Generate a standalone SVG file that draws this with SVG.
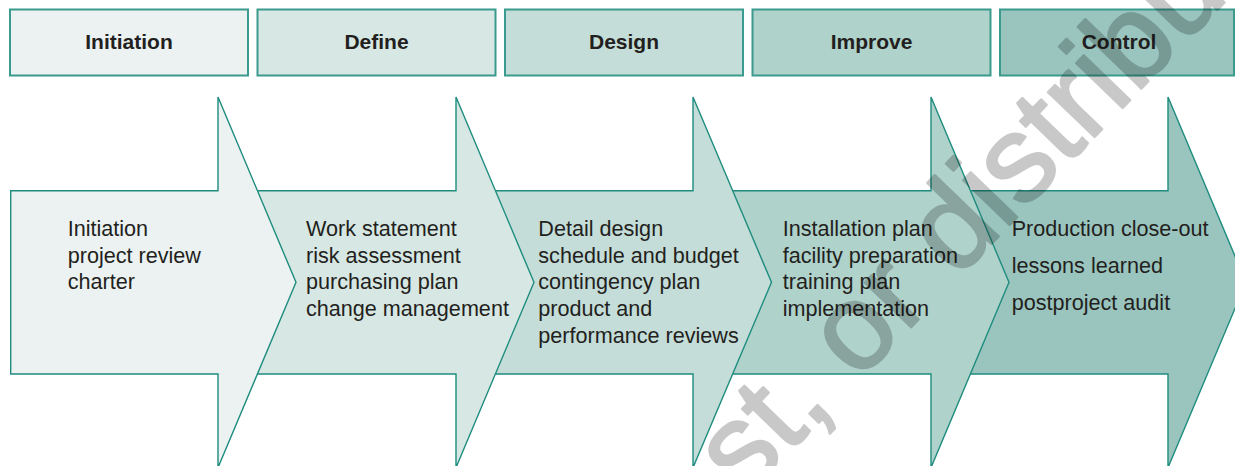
<svg xmlns="http://www.w3.org/2000/svg" width="1235" height="466" viewBox="0 0 1235 466">
  <style>
    .hdr { stroke: #3a9a8d; stroke-width: 2; }
    .hdr-text { font-family: "Liberation Sans", Arial, sans-serif; font-size: 21px; font-weight: bold; fill: #231f20; text-anchor: middle; }
    .arrow { stroke: #1f8c7f; stroke-width: 1.4; stroke-linejoin: miter; }
    .body { font-family: "Liberation Sans", Arial, sans-serif; font-size: 21.6px; fill: #231f20; }
    .c1 { fill: #ebf2f1; }
    .c2 { fill: #d7e8e4; }
    .c3 { fill: #c4ddd8; }
    .c4 { fill: #afd2cb; }
    .c5 { fill: #9ac5be; }
    .mark { font-family: "Liberation Sans", Arial, sans-serif; font-size: 122px; fill: #000000; stroke: #000000; stroke-width: 2.5; stroke-linejoin: round; }
  </style>

  <!-- phase headers -->
  <g id="hdr-initiation">
    <rect class="hdr c1" x="10" y="9.5" width="238" height="66"/>
    <text class="hdr-text" x="129" y="49">Initiation</text>
  </g>
  <g id="hdr-define">
    <rect class="hdr c2" x="257.5" y="9.5" width="238" height="66"/>
    <text class="hdr-text" x="376.5" y="49">Define</text>
  </g>
  <g id="hdr-design">
    <rect class="hdr c3" x="505" y="9.5" width="238" height="66"/>
    <text class="hdr-text" x="624" y="49">Design</text>
  </g>
  <g id="hdr-improve">
    <rect class="hdr c4" x="752.5" y="9.5" width="238" height="66"/>
    <text class="hdr-text" x="871.5" y="49">Improve</text>
  </g>
  <g id="hdr-control">
    <rect class="hdr c5" x="1000" y="9.5" width="234" height="66"/>
    <text class="hdr-text" x="1119" y="49">Control</text>
  </g>

  <!-- chevron arrows, later phases drawn first so earlier heads overlap them -->
  <g id="arrow-control">
    <polygon class="arrow c5" points="931,190.7 1168,190.7 1168,97 1246,282.3 1168,467.6 1168,374 931,374"/>
    <text class="body" x="1011.7" y="236">Production close-out</text>
    <text class="body" x="1011.7" y="272.7">lessons learned</text>
    <text class="body" x="1011.7" y="310">postproject audit</text>
  </g>
  <g id="arrow-improve">
    <polygon class="arrow c4" points="693,190.7 931,190.7 931,97 1009,282.3 931,467.6 931,374 693,374"/>
    <text class="body" x="782.7" y="236">Installation plan</text>
    <text class="body" x="782.7" y="262.7">facility preparation</text>
    <text class="body" x="782.7" y="289.3">training plan</text>
    <text class="body" x="782.7" y="316">implementation</text>
  </g>
  <g id="arrow-design">
    <polygon class="arrow c3" points="456,190.7 693,190.7 693,97 771.5,282.3 693,467.6 693,374 456,374"/>
    <text class="body" x="538.3" y="236">Detail design</text>
    <text class="body" x="538.3" y="262.7">schedule and budget</text>
    <text class="body" x="538.3" y="289.3">contingency plan</text>
    <text class="body" x="538.3" y="316">product and</text>
    <text class="body" x="538.3" y="342.7">performance reviews</text>
  </g>
  <g id="arrow-define">
    <polygon class="arrow c2" points="218,190.7 456,190.7 456,97 534,282.3 456,467.6 456,374 218,374"/>
    <text class="body" x="306" y="236">Work statement</text>
    <text class="body" x="306" y="262.7">risk assessment</text>
    <text class="body" x="306" y="289.3">purchasing plan</text>
    <text class="body" x="306" y="316">change management</text>
  </g>
  <g id="arrow-initiation">
    <polygon class="arrow c1" points="10.7,190.7 218,190.7 218,97 296,282.3 218,467.6 218,374 10.7,374"/>
    <text class="body" x="67.7" y="236">Initiation</text>
    <text class="body" x="67.7" y="262.7">project review</text>
    <text class="body" x="67.7" y="289.3">charter</text>
  </g>

  <!-- diagonal watermark, composited as one translucent layer -->
  <g opacity="0.21">
    <text class="mark" x="0" y="0" transform="translate(745 499) rotate(-46)">st, or distribut</text>
  </g>
</svg>
